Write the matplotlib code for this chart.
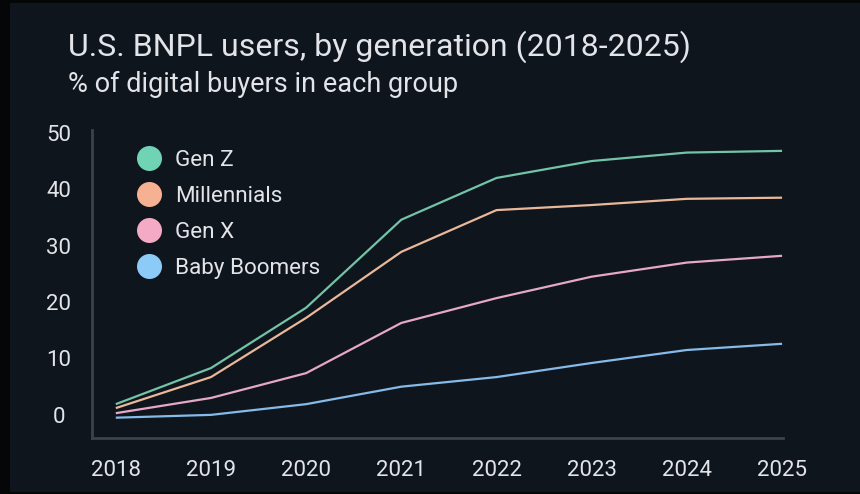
import matplotlib
matplotlib.use("Agg")
import matplotlib.pyplot as plt
from matplotlib.lines import Line2D
from matplotlib.patches import Rectangle

# values (% of digital buyers)
years = [2018, 2019, 2020, 2021, 2022, 2023, 2024, 2025]
gen_z = [1.9, 8.3, 19.0, 34.6, 42.0, 45.0, 46.5, 46.8]
millennials = [1.2, 6.7, 17.2, 28.9, 36.3, 37.2, 38.3, 38.5]
gen_x = [0.3, 3.0, 7.4, 16.3, 20.7, 24.5, 27.0, 28.2]
boomers = [-0.5, 0.0, 1.9, 5.0, 6.7, 9.2, 11.5, 12.6]
series_names = ["Gen Z", "Millennials", "Gen X", "Baby Boomers"]
y_ticks = [0, 10, 20, 30, 40, 50]

line_colors = ["#72c4a8", "#eab899", "#e6a8c7", "#86bae8"]
dot_colors = ["#70d4b4", "#f5b191", "#f4aac4", "#8ccbf7"]
bg = "#0f151d"
txt = "#e2e4e8"
axis_col = "#3b424c"

plt.rcParams["font.family"] = ["Roboto", "DejaVu Sans"]

fig = plt.figure(figsize=(8.6, 4.94), dpi=100, facecolor="#050608")
fig.patches.append(Rectangle((10 / 860, 2 / 494), 1, 489 / 494, transform=fig.transFigure,
                             facecolor=bg, edgecolor="none", zorder=-5))

ax = fig.add_axes([92 / 860, 56 / 494, 691 / 860, 308 / 494])
ax.set_facecolor("none")
ax.set_zorder(2)

all_series = [gen_z, millennials, gen_x, boomers]
for vals, col in zip(all_series, line_colors):
    ax.plot(years, vals, color=col, lw=1.6, solid_capstyle="butt", zorder=3)

ax.set_xlim(2017.75, 2025.01)
ax.set_ylim(-4.1, 50.5)
ax.set_xticks(years)
ax.set_xticklabels([str(y) for y in years])
ax.set_yticks(y_ticks)
ax.set_yticklabels([str(v) for v in y_ticks])
ax.tick_params(axis="both", length=0, colors=txt, labelsize=16)
ax.tick_params(axis="y", pad=24)
ax.tick_params(axis="x", pad=16)
for lab in ax.get_yticklabels():
    lab.set_horizontalalignment("center")

for side in ["top", "right"]:
    ax.spines[side].set_visible(False)
for side in ["left", "bottom"]:
    ax.spines[side].set_color(axis_col)
    ax.spines[side].set_linewidth(2)

handles = [Line2D([], [], linestyle="none", marker="o", markersize=18,
                  markerfacecolor=c, markeredgecolor="none") for c in dot_colors]
leg = ax.legend(handles, series_names, loc="upper left",
                bbox_to_anchor=(138 / 860, 1 - 150 / 494), bbox_transform=fig.transFigure,
                frameon=False, fontsize=16.2, labelcolor=txt, handlelength=1.0,
                handletextpad=0.64, labelspacing=0.66, borderpad=0, borderaxespad=0)

fig.text(68 / 860, 1 - 56 / 494, "U.S. BNPL users, by generation (2018-2025)",
         color=txt, fontsize=23, va="baseline", ha="left")
fig.text(68 / 860, 1 - 92 / 494, "% of digital buyers in each group",
         color=txt, fontsize=19.5, va="baseline", ha="left")

fig.savefig("out.png", dpi=100, facecolor=fig.get_facecolor())
